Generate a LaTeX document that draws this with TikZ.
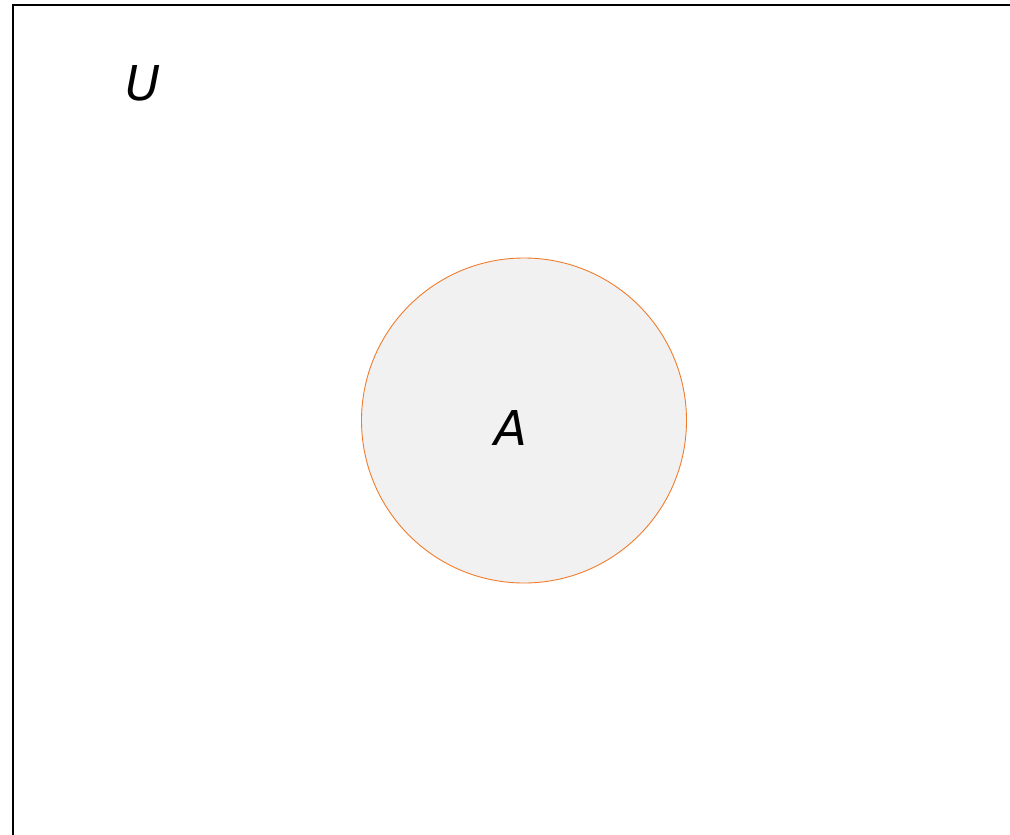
\documentclass[tikz,border=0pt]{standalone}
\usepackage{fontspec}
\setmainfont{DejaVu Sans}
\definecolor{setedge}{HTML}{F07C2C}
\definecolor{setfill}{HTML}{F1F1F1}
\tikzset{
  universe/.style={draw=black, line width=1.5pt},
  setcircle/.style={circle, draw=setedge, fill=setfill, line width=0.9pt, minimum size=325pt, inner sep=0pt},
  setlabel/.style={font=\fontsize{48}{48}\selectfont\itshape, inner sep=0pt}
}
\begin{document}
\begin{tikzpicture}[x=1pt,y=-1pt]
\useasboundingbox (0,0) rectangle (1010,835);
\clip (0,0) rectangle (1010,835);
\draw[universe] (13,5) rectangle (1030,860);
\node[setcircle] (A) at (524,420.5) {};
\node[setlabel] (Alabel) at (511,428) {A};
\node[setlabel] (U) at (143,83) {U};
\end{tikzpicture}
\end{document}
